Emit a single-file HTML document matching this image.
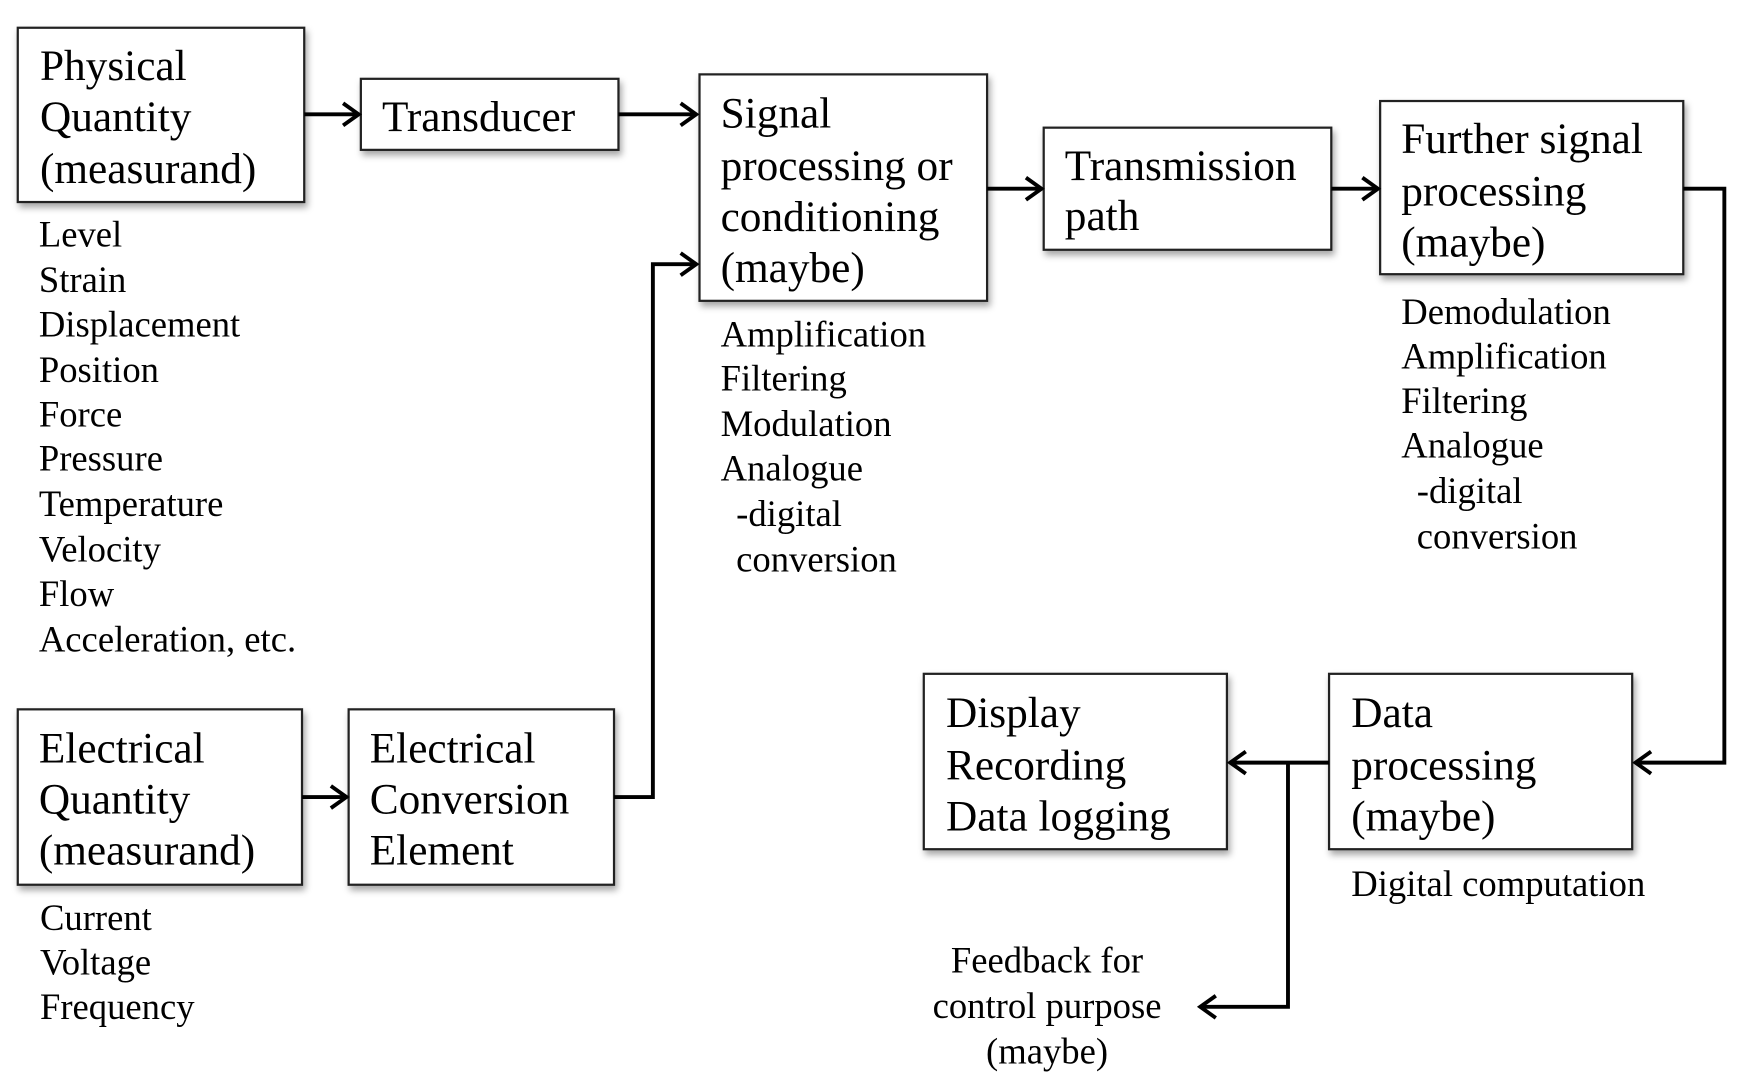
<!DOCTYPE html>
<html><head><style>
html,body{margin:0;padding:0;background:#fff;}
svg{display:block;}
text{font-family:"Liberation Serif",serif;fill:#000;}
.b{font-size:39px;}
.l{font-size:33px;}
</style></head><body>
<svg width="1741" height="1079" viewBox="0 0 1568 972" preserveAspectRatio="none" xmlns="http://www.w3.org/2000/svg">
<defs>
<filter id="sh" x="-10%" y="-10%" width="130%" height="130%"><feDropShadow dx="2" dy="4" stdDeviation="3" flood-color="#000" flood-opacity="0.35"/></filter>
<marker id="ar" viewBox="0 0 20 24" refX="17" refY="12" markerWidth="20" markerHeight="24" markerUnits="userSpaceOnUse" orient="auto"><path d="M3,2 L17,12 L3,22" fill="none" stroke="#000" stroke-width="3.5"/></marker>
</defs>
<g fill="#fff" stroke="#222" stroke-width="2" filter="url(#sh)">
<rect x="16" y="25" width="258" height="157"/>
<rect x="325" y="71" width="232" height="64"/>
<rect x="630" y="67" width="259" height="204"/>
<rect x="940" y="115" width="259" height="110"/>
<rect x="1243" y="91" width="273" height="156"/>
<rect x="1197" y="607" width="273" height="158"/>
<rect x="832" y="607" width="273" height="158"/>
<rect x="16" y="639" width="256" height="158"/>
<rect x="314" y="639" width="239" height="158"/>
</g>
<g fill="none" stroke="#000" stroke-width="3.5">
<line x1="274" y1="103" x2="323" y2="103" marker-end="url(#ar)"/>
<line x1="557" y1="103" x2="627" y2="103" marker-end="url(#ar)"/>
<line x1="889" y1="170" x2="938" y2="170" marker-end="url(#ar)"/>
<line x1="1199" y1="170" x2="1241" y2="170" marker-end="url(#ar)"/>
<polyline points="1516,170 1553,170 1553,687 1473,687" marker-end="url(#ar)"/>
<line x1="1197" y1="687" x2="1108" y2="687" marker-end="url(#ar)"/>
<polyline points="1160,687 1160,907 1081,907" marker-end="url(#ar)"/>
<line x1="272" y1="718" x2="312" y2="718" marker-end="url(#ar)"/>
<polyline points="553,718 588,718 588,238 627,238" marker-end="url(#ar)"/>
</g>
<g class="b">
<text x="36" y="72">Physical</text><text x="36" y="118">Quantity</text><text x="36" y="165">(measurand)</text>
<text x="344" y="118">Transducer</text>
<text x="649" y="115">Signal</text><text x="649" y="162">processing or</text><text x="649" y="208">conditioning</text><text x="649" y="254">(maybe)</text>
<text x="959" y="162">Transmission</text><text x="959" y="207">path</text>
<text x="1262" y="138">Further signal</text><text x="1262" y="185">processing</text><text x="1262" y="231">(maybe)</text>
<text x="1217" y="655">Data</text><text x="1217" y="702">processing</text><text x="1217" y="748">(maybe)</text>
<text x="852" y="655">Display</text><text x="852" y="702">Recording</text><text x="852" y="748">Data logging</text>
<text x="35" y="687">Electrical</text><text x="35" y="733">Quantity</text><text x="35" y="779">(measurand)</text>
<text x="333" y="687">Electrical</text><text x="333" y="733">Conversion</text><text x="333" y="779">Element</text>
</g>
<g class="l">
<text x="35" y="222">Level</text><text x="35" y="263">Strain</text><text x="35" y="303">Displacement</text><text x="35" y="344">Position</text><text x="35" y="384">Force</text><text x="35" y="424">Pressure</text><text x="35" y="465">Temperature</text><text x="35" y="506">Velocity</text><text x="35" y="546">Flow</text><text x="35" y="587">Acceleration, etc.</text>
<text x="649" y="312">Amplification</text><text x="649" y="352">Filtering</text><text x="649" y="393">Modulation</text><text x="649" y="433">Analogue</text><text x="663" y="474">-digital</text><text x="663" y="515">conversion</text>
<text x="1262" y="292">Demodulation</text><text x="1262" y="332">Amplification</text><text x="1262" y="372">Filtering</text><text x="1262" y="412">Analogue</text><text x="1276" y="453">-digital</text><text x="1276" y="494">conversion</text>
<text x="1217" y="807">Digital computation</text>
<text x="36" y="838">Current</text><text x="36" y="878">Voltage</text><text x="36" y="918">Frequency</text>
<text x="943" y="876" text-anchor="middle">Feedback for</text><text x="943" y="917" text-anchor="middle">control purpose</text><text x="943" y="958" text-anchor="middle">(maybe)</text>
</g>
</svg>
</body></html>
